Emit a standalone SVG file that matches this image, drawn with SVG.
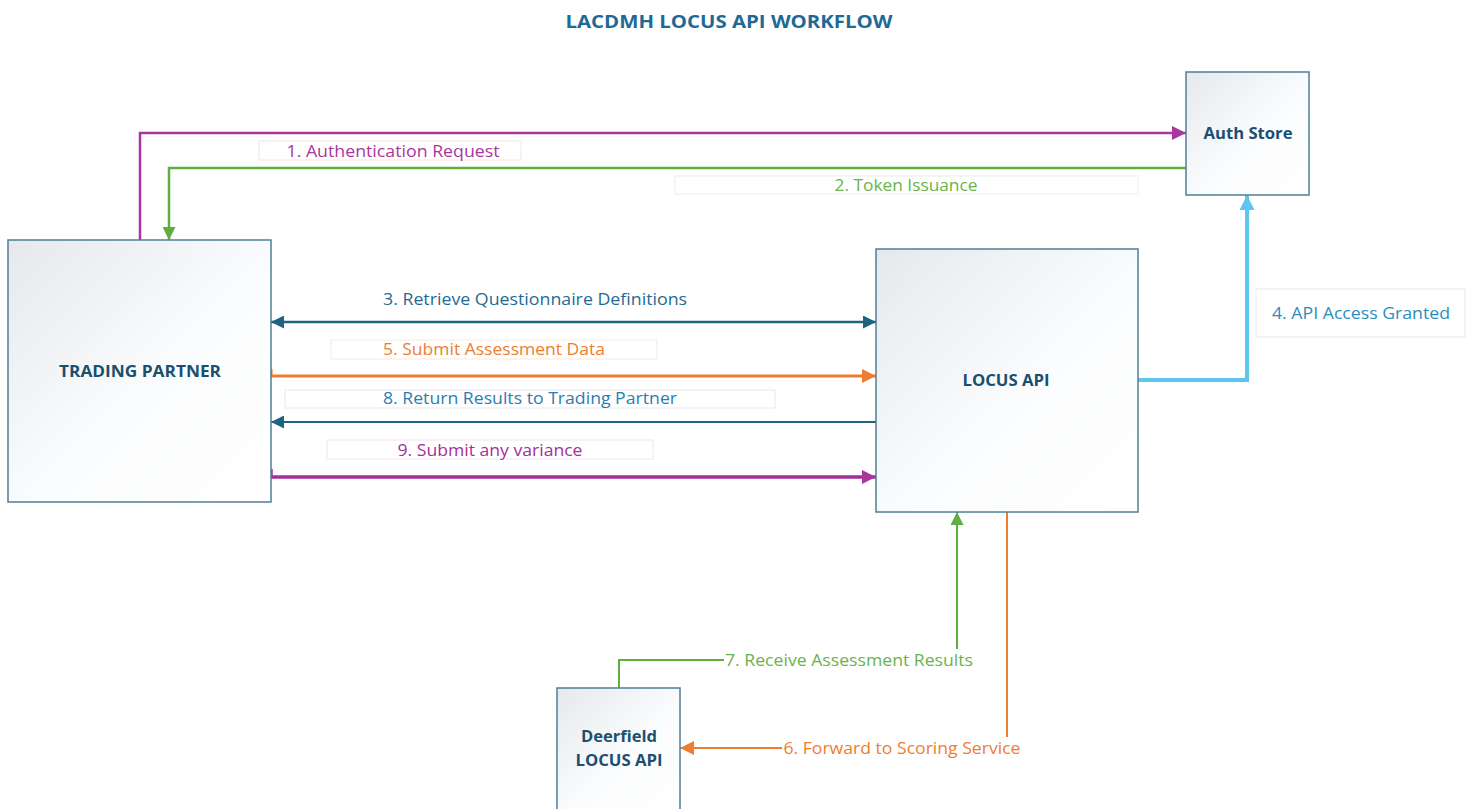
<svg xmlns="http://www.w3.org/2000/svg" width="1472" height="809" viewBox="0 0 1472 809">
<style>
.node{stroke:#4f7f98;stroke-width:1.5;fill:url(#ng)}
.nl{font-family:"Open Sans","Liberation Sans",sans-serif;font-weight:bold;font-size:16px;fill:#1b4f70;text-anchor:middle}
.lb{font-family:"Open Sans","Liberation Sans",sans-serif;font-size:16px;text-anchor:middle}
.lbox{fill:#fff;stroke-width:1}
.c{fill:none}
</style>
<defs>
<linearGradient id="ng" x1="0" y1="0" x2="1" y2="1">
<stop offset="0" stop-color="#e6e8ec"/>
<stop offset="0.55" stop-color="#fbfcfd"/>
<stop offset="1" stop-color="#ffffff"/>
</linearGradient>
<marker id="aP" viewBox="0 0 12 12" refX="12" refY="6" markerWidth="14" markerHeight="14" markerUnits="userSpaceOnUse" orient="auto-start-reverse"><path d="M0,0L12,6L0,12z" fill="#a8369e"/></marker>
<marker id="aG" viewBox="0 0 12 12" refX="12" refY="6" markerWidth="13" markerHeight="13" markerUnits="userSpaceOnUse" orient="auto-start-reverse"><path d="M0,0L12,6L0,12z" fill="#5fae40"/></marker>
<marker id="aB" viewBox="0 0 12 12" refX="12" refY="6" markerWidth="13" markerHeight="13" markerUnits="userSpaceOnUse" orient="auto-start-reverse"><path d="M0,0L12,6L0,12z" fill="#1f6282"/></marker>
<marker id="aO" viewBox="0 0 12 12" refX="12" refY="6" markerWidth="14" markerHeight="14" markerUnits="userSpaceOnUse" orient="auto-start-reverse"><path d="M0,0L12,6L0,12z" fill="#ed7d31"/></marker>
<marker id="aL" viewBox="0 0 12 12" refX="12" refY="6" markerWidth="15" markerHeight="15" markerUnits="userSpaceOnUse" orient="auto-start-reverse"><path d="M0,0L12,6L0,12z" fill="#5cc6f0"/></marker>
</defs>
<rect width="1472" height="809" fill="#fff"/>
<text x="729" y="28" font-family="'Open Sans','Liberation Sans',sans-serif" font-weight="bold" font-size="18" fill="#1f6a94" text-anchor="middle" textLength="327" lengthAdjust="spacingAndGlyphs">LACDMH LOCUS API WORKFLOW</text>

<g id="connectors">
<path id="c1" class="c" d="M140,240V133H1186" stroke="#a8369e" stroke-width="2.5" marker-end="url(#aP)"/>
<path id="c2" class="c" d="M1186,168H169V240" stroke="#5fae40" stroke-width="2.5" marker-end="url(#aG)"/>
<path id="c3" class="c" d="M271,322H876" stroke="#1f6282" stroke-width="2.5" marker-start="url(#aB)" marker-end="url(#aB)"/>
<path id="c4" class="c" d="M1138,380H1247V195" stroke="#5cc6f0" stroke-width="4" marker-end="url(#aL)"/>
<path id="c5" class="c" d="M271,369V376H876" stroke="#ed7d31" stroke-width="3" marker-end="url(#aO)"/>
<path id="c8" class="c" d="M876,422H271" stroke="#1f6282" stroke-width="2" marker-end="url(#aB)"/>
<path id="c9" class="c" d="M271,469V477H876" stroke="#a32f9b" stroke-width="3.5" marker-end="url(#aP)"/>
<path id="c6" class="c" d="M1007,512V748H680" stroke="#ed7d31" stroke-width="2" marker-end="url(#aO)"/>
<path id="c7" class="c" d="M619,688V660H957V512" stroke="#5fae40" stroke-width="2" marker-end="url(#aG)"/>

<rect class="lbox" x="259" y="141" width="262" height="19" stroke="#f3e4f1"/>
<text class="lb" x="393" y="157" fill="#a8369e" textLength="213" lengthAdjust="spacingAndGlyphs">1. Authentication Request</text>
<rect class="lbox" x="675" y="176" width="463" height="18" stroke="#e6f1e3"/>
<text class="lb" x="906" y="191" fill="#6ab34c" textLength="143" lengthAdjust="spacingAndGlyphs">2. Token Issuance</text>
<text class="lb" x="535" y="305" fill="#1f6a94" textLength="304" lengthAdjust="spacingAndGlyphs">3. Retrieve Questionnaire Definitions</text>
<rect class="lbox" x="1256" y="289" width="209" height="48" stroke="#e3ebf0"/>
<text class="lb" x="1361" y="319" fill="#2a8ec0" textLength="178" lengthAdjust="spacingAndGlyphs">4. API Access Granted</text>
<rect class="lbox" x="331" y="340" width="326" height="19" stroke="#fbe6da"/>
<text class="lb" x="494" y="355" fill="#ed7d31" textLength="222" lengthAdjust="spacingAndGlyphs">5. Submit Assessment Data</text>
<rect class="lbox" x="285" y="390" width="490" height="18" stroke="#e3ebf0"/>
<text class="lb" x="530" y="404" fill="#2a7db0" textLength="294" lengthAdjust="spacingAndGlyphs">8. Return Results to Trading Partner</text>
<rect class="lbox" x="327" y="440" width="326" height="19" stroke="#f3e4f1"/>
<text class="lb" x="490" y="456" fill="#a32f9b" textLength="185" lengthAdjust="spacingAndGlyphs">9. Submit any variance</text>
<rect x="724" y="649" width="252" height="22" fill="#fff"/>
<text class="lb" x="849" y="666" fill="#6ab34c" textLength="248" lengthAdjust="spacingAndGlyphs">7. Receive Assessment Results</text>
<rect x="782" y="737" width="241" height="22" fill="#fff"/>
<text class="lb" x="902" y="754" fill="#ed7d31" textLength="237" lengthAdjust="spacingAndGlyphs">6. Forward to Scoring Service</text>
</g>

<g id="trading-partner">
<rect class="node" x="8" y="240" width="263" height="262"/>
<text class="nl" x="140" y="377" textLength="162" lengthAdjust="spacingAndGlyphs">TRADING PARTNER</text>
</g>
<g id="auth-store">
<rect class="node" x="1186" y="72" width="123" height="123"/>
<text class="nl" x="1248" y="139" textLength="89" lengthAdjust="spacingAndGlyphs">Auth Store</text>
</g>
<g id="locus-api">
<rect class="node" x="876" y="249" width="262" height="263"/>
<text class="nl" x="1006" y="386" textLength="87" lengthAdjust="spacingAndGlyphs">LOCUS API</text>
</g>
<g id="deerfield">
<rect class="node" x="557" y="688" width="123" height="125"/>
<text class="nl" x="619" y="742" textLength="76" lengthAdjust="spacingAndGlyphs">Deerfield</text>
<text class="nl" x="619" y="766" textLength="87" lengthAdjust="spacingAndGlyphs">LOCUS API</text>
</g>
</svg>
